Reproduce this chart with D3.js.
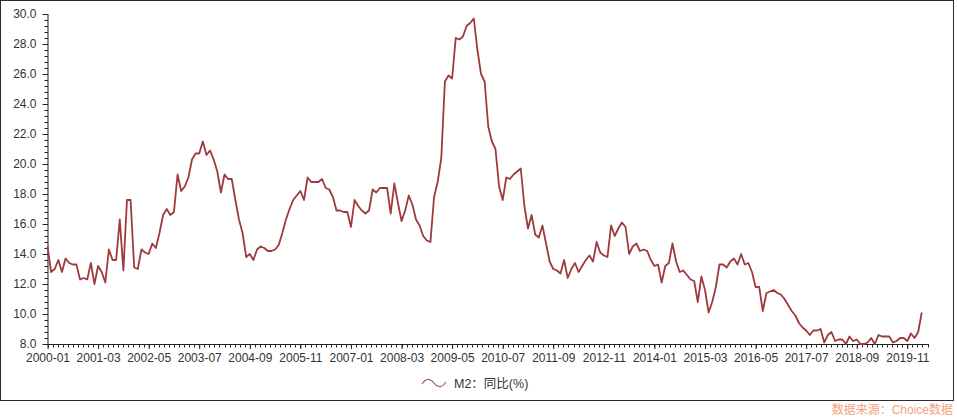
<!DOCTYPE html>
<html>
<head>
<meta charset="utf-8">
<script src="https://cdn.jsdelivr.net/npm/d3@7"></script>
<style>
  html, body { margin: 0; padding: 0; background: #fff; }
  svg { display: block; }
  text { font-family: "Liberation Sans", Arial, "Noto Sans CJK SC", sans-serif; }
</style>
</head>
<body>
<svg id="chart" width="957" height="417"></svg>
<script>
// ---- data ----
const startYear = 2000;
const seriesName = "M2：同比(%)";
const sourceText = "数据来源：Choice数据";
const m2_2000 = [14.5,12.8,13.0,13.6,12.8,13.7,13.4,13.3,13.3,12.3,12.4,12.3];
const m2_2001 = [13.4,12.0,13.2,12.8,12.1,14.3,13.6,13.6,16.3,12.9,17.6,17.6];
const m2_2002 = [13.1,13.0,14.3,14.1,14.0,14.7,14.4,15.4,16.6,17.0,16.6,16.8];
const m2_2003 = [19.3,18.2,18.5,19.1,20.3,20.7,20.7,21.5,20.6,20.9,20.3,19.5];
const m2_2004 = [18.1,19.3,19.0,19.0,17.6,16.3,15.4,13.8,14.0,13.6,14.3,14.5];
const m2_2005 = [14.4,14.2,14.2,14.3,14.6,15.4,16.3,17.0,17.6,17.9,18.2,17.6];
const m2_2006 = [19.1,18.8,18.8,18.8,19.0,18.4,18.3,17.8,16.9,16.9,16.8,16.8];
const m2_2007 = [15.8,17.6,17.2,16.9,16.7,16.9,18.3,18.1,18.4,18.4,18.4,16.7];
const m2_2008 = [18.7,17.4,16.2,16.9,17.9,17.3,16.3,15.9,15.2,14.9,14.8,17.8];
const m2_2009 = [18.8,20.4,25.5,25.9,25.7,28.4,28.3,28.5,29.2,29.4,29.7,27.6];
const m2_2010 = [26.0,25.5,22.5,21.5,21.0,18.5,17.6,19.1,19.0,19.3,19.5,19.7];
const m2_2011 = [17.2,15.7,16.6,15.3,15.1,15.9,14.7,13.5,13.0,12.9,12.7,13.6];
const m2_2012 = [12.4,13.0,13.4,12.8,13.2,13.6,13.9,13.5,14.8,14.1,13.9,13.8];
const m2_2013 = [15.9,15.2,15.7,16.1,15.8,14.0,14.5,14.7,14.2,14.3,14.2,13.6];
const m2_2014 = [13.2,13.3,12.1,13.2,13.4,14.7,13.5,12.8,12.9,12.6,12.3,12.2];
const m2_2015 = [10.8,12.5,11.6,10.1,10.8,11.8,13.3,13.3,13.1,13.5,13.7,13.3];
const m2_2016 = [14.0,13.3,13.4,12.8,11.8,11.8,10.2,11.4,11.5,11.6,11.4,11.3];
const m2_2017 = [11.0,10.6,10.2,9.9,9.4,9.1,8.9,8.6,8.9,8.9,9.0,8.1];
const m2_2018 = [8.6,8.8,8.2,8.3,8.3,8.0,8.5,8.2,8.3,8.0,8.0,8.1];
const m2_2019 = [8.4,8.0,8.6,8.5,8.5,8.5,8.1,8.2,8.4,8.4,8.2,8.7];
const m2_2020 = [8.4,8.8,10.1];
const yTicks = [8,10,12,14,16,18,20,22,24,26,28,30];
const xTickLabels = ["2000-01","2001-03","2002-05","2003-07","2004-09","2005-11","2007-01","2008-03","2009-05","2010-07","2011-09","2012-11","2014-01","2015-03","2016-05","2017-07","2018-09","2019-11"];

const values = [].concat(m2_2000,m2_2001,m2_2002,m2_2003,m2_2004,m2_2005,m2_2006,m2_2007,m2_2008,m2_2009,m2_2010,m2_2011,m2_2012,m2_2013,m2_2014,m2_2015,m2_2016,m2_2017,m2_2018,m2_2019,m2_2020);
const labelOf = i => {
  const y = startYear + Math.floor(i / 12), m = (i % 12) + 1;
  return y + "-" + (m < 10 ? "0" + m : m);
};
const data = values.map((v, i) => ({ i, label: labelOf(i), v }));

// ---- layout ----
const svg = d3.select("#chart");
const lineColor = "#9e3a3c";
const axisColor = "#222";
const textColor = "#333";

const x = d3.scaleLinear().domain([0, 244]).range([47.5, 929]);
const y = d3.scaleLinear().domain([8, 30]).range([344, 14]);

// outer frame
svg.append("rect").attr("x", 0.5).attr("y", 0.5).attr("width", 953).attr("height", 400)
  .attr("fill", "none").attr("stroke", "#2a2a2a").attr("stroke-width", 1);

// y axis
const yMinor = d3.range(8, 30.0001, 0.4);
const yAxis = d3.axisLeft(y).tickValues(yTicks).tickFormat(d3.format(".1f")).tickSize(5).tickPadding(5);
const gy = svg.append("g").attr("transform", "translate(" + x(0) + ",0)").call(yAxis);
gy.select(".domain").attr("stroke", axisColor).attr("d", "M0.5," + y(30) + "V" + (y(8) + 0.5));
gy.selectAll(".tick line").attr("stroke", axisColor).attr("x1", 0.5).attr("x2", -5);
gy.selectAll(".tick text").attr("fill", textColor).attr("font-size", 12).attr("x", -11)
  .attr("font-family", "'Liberation Sans', Arial, sans-serif");
gy.selectAll(".ymin").data(yMinor).enter().append("line").attr("class", "ymin")
  .attr("x1", 0.5).attr("x2", -3).attr("y1", d => Math.round(y(d)) + 0.5).attr("y2", d => Math.round(y(d)) + 0.5)
  .attr("stroke", axisColor);

// x axis
const xMajor = xTickLabels.map((_, k) => k * 14);
const xMinor = d3.range(0, 244.01, 1.4);
const xAxis = d3.axisBottom(x).tickValues(xMajor).tickFormat((d, k) => xTickLabels[k]).tickSize(5).tickPadding(4);
const gx = svg.append("g").attr("transform", "translate(0," + y(8) + ")").call(xAxis);
gx.select(".domain").attr("stroke", axisColor).attr("d", "M" + x(0) + ",0.5H" + x(244));
gx.selectAll(".tick line").attr("stroke", axisColor).attr("y1", 0.5);
gx.selectAll(".tick text").attr("fill", textColor).attr("font-size", 12)
  .attr("font-family", "'Liberation Sans', Arial, sans-serif");
gx.selectAll(".xmin").data(xMinor).enter().append("line").attr("class", "xmin")
  .attr("x1", d => Math.round(x(d)) + 0.5).attr("x2", d => Math.round(x(d)) + 0.5)
  .attr("y1", 0.5).attr("y2", 3.5).attr("stroke", axisColor);

// series line
const line = d3.line().x(d => x(d.i)).y(d => y(d.v));
svg.append("path").datum(data).attr("d", line).attr("fill", "none")
  .attr("stroke", lineColor).attr("stroke-width", 1.8).attr("stroke-linejoin", "round");

// legend
const lg = svg.append("g").attr("transform", "translate(422,383)");
lg.append("path").attr("d", "M0,1 C4,-5 8,-5 12,0 S20,5 24,-1")
  .attr("fill", "none").attr("stroke", "#a86264").attr("stroke-width", 1.2);
lg.append("text").attr("x", 32).attr("y", 4.5).attr("font-size", 12.5).attr("fill", textColor)
  .attr("font-family", "'Liberation Sans', Arial, 'Noto Sans CJK SC', sans-serif")
  .text(seriesName);

// source
svg.append("text").attr("x", 953).attr("y", 414).attr("text-anchor", "end")
  .attr("font-size", 12).attr("fill", "#f2a27c")
  .attr("font-family", "'Liberation Sans', Arial, 'Noto Sans CJK SC', sans-serif")
  .text(sourceText);
</script>
</body>
</html>
